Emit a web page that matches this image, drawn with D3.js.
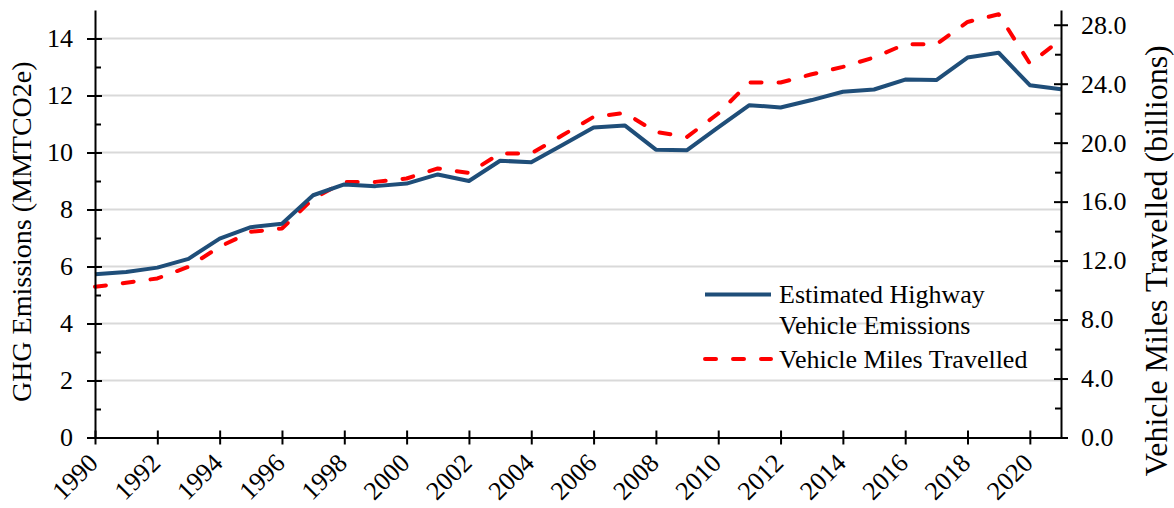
<!DOCTYPE html>
<html>
<head>
<meta charset="utf-8">
<script src="https://cdn.jsdelivr.net/npm/d3@7"></script>
<style>
  html, body { margin: 0; padding: 0; background: #fff; }
  svg text { font-family: "Liberation Serif", "Times New Roman", serif; fill: #000; }
</style>
</head>
<body>
<svg id="chart" width="1174" height="508"></svg>
<script>
const years = d3.range(1990, 2022);
const emissions = [5.73, 5.81, 5.96, 6.27, 6.98, 7.38, 7.50, 8.50, 8.88, 8.82, 8.91, 9.23, 9.00,
  9.71, 9.66, 10.26, 10.88, 10.95, 10.10, 10.08, 10.88, 11.66, 11.58, 11.84, 12.13, 12.21,
  12.56, 12.54, 13.33, 13.50, 12.36, 12.22];
const vmt = [10.22, 10.50, 10.79, 11.58, 12.94, 13.95, 14.18, 16.20, 17.34, 17.34, 17.57, 18.25, 17.95,
  19.27, 19.27, 20.50, 21.75, 22.02, 20.73, 20.39, 21.98, 24.08, 24.08, 24.64, 25.14, 25.78,
  26.68, 26.68, 28.19, 28.71, 25.37, 27.00];
const leftTicks = [0, 2, 4, 6, 8, 10, 12, 14];
const leftMinor = [1, 3, 5, 7, 9, 11, 13];
const rightTicks = [0, 4, 8, 12, 16, 20, 24, 28];
const rightMinor = [2, 6, 10, 14, 18, 22, 26];
const xTicks = d3.range(1990, 2021, 2);
const seriesNames = ["Estimated Highway|Vehicle Emissions", "Vehicle Miles Travelled"];
const leftTitle = "GHG Emissions (MMTCO2e)";
const rightTitle = "Vehicle Miles Travelled (billions)";

const FONT = "'Liberation Serif', 'Times New Roman', serif";
const BLUE = "#1f4e79", RED = "#ff0000";
const svg = d3.select("#chart");
const L = 95, R = 1061, T = 10, B = 437.5;

const x = d3.scaleLinear().domain([1990, 2021]).range([L, R]);
const yL = d3.scaleLinear().domain([0, 15]).range([B, T]);
const yR = d3.scaleLinear().domain([0, 29]).range([B, T]);

// gridlines
svg.append("g").selectAll("line").data(leftTicks.filter(d => d > 0)).join("line")
  .attr("x1", L).attr("x2", R).attr("y1", d => yL(d)).attr("y2", d => yL(d))
  .attr("stroke", "#d9d9d9").attr("stroke-width", 2);

// lines
const lineE = d3.line().x((d, i) => x(years[i])).y(d => yL(d));
const lineV = d3.line().x((d, i) => x(years[i])).y(d => yR(d));
svg.append("path").datum(vmt).attr("d", lineV).attr("fill", "none")
  .attr("stroke", RED).attr("stroke-width", 4).attr("stroke-dasharray", "11 17")
  .attr("stroke-linecap", "round").attr("stroke-linejoin", "round");
svg.append("path").datum(emissions).attr("d", lineE).attr("fill", "none")
  .attr("stroke", BLUE).attr("stroke-width", 4).attr("stroke-linejoin", "round");

function styleAxis(g) {
  g.attr("font-family", FONT).attr("font-size", 26);
  g.selectAll(".domain").attr("stroke", "#000").attr("stroke-width", 2);
  g.selectAll(".tick line").attr("stroke", "#000").attr("stroke-width", 2);
  g.selectAll("text").attr("font-family", FONT).style("font-family", FONT).style("font-size", "26px");
}

// left axis
const gL = svg.append("g").attr("transform", `translate(${L},0)`)
  .call(d3.axisLeft(yL).tickValues(leftTicks).tickFormat(d3.format("d")).tickSize(8).tickPadding(14).tickSizeOuter(0));
styleAxis(gL);
gL.selectAll(".tick line").attr("x2", 7).attr("x1", -8);
const gLm = svg.append("g").attr("transform", `translate(${L},0)`)
  .call(d3.axisRight(yL).tickValues(leftMinor).tickFormat("").tickSize(6).tickSizeOuter(0));
styleAxis(gLm); gLm.select(".domain").remove();

// right axis
const gR = svg.append("g").attr("transform", `translate(${R},0)`)
  .call(d3.axisRight(yR).tickValues(rightTicks).tickFormat(d3.format(".1f")).tickSize(7).tickPadding(13).tickSizeOuter(0));
styleAxis(gR);
gR.selectAll(".tick line").attr("x1", -7).attr("x2", 7);
const gRm = svg.append("g").attr("transform", `translate(${R},0)`)
  .call(d3.axisLeft(yR).tickValues(rightMinor).tickFormat("").tickSize(6).tickSizeOuter(0));
styleAxis(gRm); gRm.select(".domain").remove();

// x axis
const gX = svg.append("g").attr("transform", `translate(0,${B})`)
  .call(d3.axisBottom(x).tickValues(xTicks).tickFormat(d3.format("d")).tickSize(7).tickSizeOuter(0));
styleAxis(gX);
gX.selectAll(".tick line").attr("y1", -7).attr("y2", 7);
gX.selectAll(".tick text")
  .attr("text-anchor", "end").attr("dy", null).attr("y", null)
  .attr("transform", "translate(-9,14) rotate(-45)")
  .attr("dominant-baseline", "hanging");

// axis titles
svg.append("text").attr("transform", `translate(31,${(T + B) / 2 + 8}) rotate(-90)`)
  .attr("text-anchor", "middle").style("font-size", "28px").text(leftTitle);
svg.append("text")
  .attr("transform", `translate(1167,${(T + B) / 2 + 37}) rotate(-90)`)
  .attr("text-anchor", "middle").style("font-size", "32px").text(rightTitle);

// legend
const lg = svg.append("g");
const items = [
  { name: seriesNames[0], color: BLUE, dash: null, y: 294.5 },
  { name: seriesNames[1], color: RED, dash: "11 17", y: 359 }
];
items.forEach(it => {
  lg.append("line").attr("x1", 705).attr("x2", 771).attr("y1", it.y).attr("y2", it.y)
    .attr("stroke", it.color).attr("stroke-width", 4)
    .attr("stroke-dasharray", it.dash).attr("stroke-linecap", it.dash ? "round" : "butt");
  const t = lg.append("text").attr("x", 779).attr("y", it.y + 8.5).style("font-size", "26px");
  it.name.split("|").forEach((s, i) => {
    t.append("tspan").attr("x", 779).attr("dy", i === 0 ? 0 : 31).text(s);
  });
});
</script>
</body>
</html>
